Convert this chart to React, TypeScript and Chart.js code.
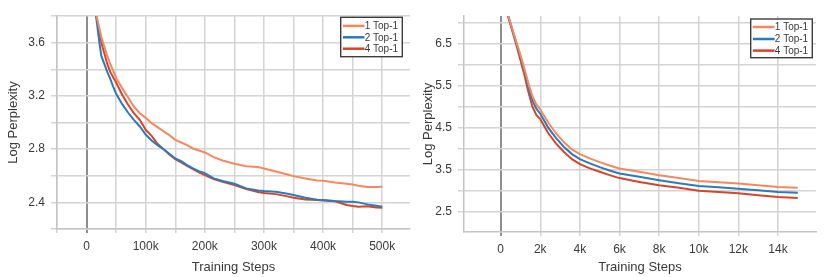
import React, { useEffect, useRef } from 'react';
import { Chart, registerables } from 'chart.js';

Chart.register(...registerables);

// ---------- data ----------
const SERIES_LABELS = ['1 Top-1', '2 Top-1', '4 Top-1'];
const SERIES_COLORS = ['#f4895f', '#2b7bba', '#d5452b'];

// Left panel: long training run (steps)
const leftSteps = [
  8000, 16000, 20000, 22000, 25000, 30000, 35000, 40000, 45000, 50000, 60000, 70000, 80000, 90000,
  100000, 110000, 120000, 130000, 140000, 150000, 160000, 170000, 180000, 190000, 200000, 215000,
  230000, 250000, 270000, 290000, 300000, 320000, 340000, 350000, 370000, 390000, 400000, 420000,
  440000, 450000, 460000, 475000, 490000, 500000,
];
const left1Top1 = [
  4.3, 3.82, 3.74, 3.7, 3.64, 3.57, 3.5, 3.44, 3.39, 3.335, 3.26, 3.19, 3.12, 3.07,
  3.035, 2.995, 2.965, 2.935, 2.905, 2.87, 2.85, 2.83, 2.805, 2.79, 2.775, 2.74,
  2.715, 2.69, 2.672, 2.665, 2.655, 2.632, 2.61, 2.597, 2.58, 2.565, 2.562, 2.55,
  2.54, 2.535, 2.525, 2.515, 2.515, 2.517,
];
const left2Top1 = [
  4.3, 3.8, 3.66, 3.59, 3.5, 3.44, 3.38, 3.33, 3.27, 3.215, 3.14, 3.075, 3.02, 2.97,
  2.91, 2.865, 2.83, 2.8, 2.765, 2.73, 2.71, 2.68, 2.655, 2.635, 2.62, 2.58,
  2.56, 2.54, 2.505, 2.49, 2.485, 2.48, 2.465, 2.455, 2.435, 2.42, 2.417, 2.41,
  2.405, 2.405, 2.4, 2.385, 2.375, 2.367,
];
const left4Top1 = [
  4.3, 3.81, 3.72, 3.67, 3.6, 3.52, 3.44, 3.38, 3.34, 3.3, 3.21, 3.135, 3.07, 3.02,
  2.945, 2.9, 2.84, 2.8, 2.76, 2.725, 2.7, 2.675, 2.65, 2.625, 2.605, 2.575,
  2.555, 2.53, 2.5, 2.478, 2.47, 2.462, 2.445, 2.435, 2.422, 2.417, 2.415, 2.408,
  2.38, 2.372, 2.367, 2.37, 2.362, 2.36,
];
const leftXTicks = [-50000, 0, 50000, 100000, 150000, 200000, 250000, 300000, 350000, 400000, 450000, 500000];
const leftYTicks = [2.2, 2.4, 2.6, 2.8, 3.0, 3.2, 3.4, 3.6, 3.8];

// Right panel: short training run (steps)
const rightSteps = [
  200, 400, 800, 1000, 1200, 1400, 1600, 1800, 2000, 2400, 2800, 3200, 3600, 4000, 4500, 5000,
  5500, 6000, 7000, 8000, 9000, 10000, 11000, 12000, 13000, 14000, 15000,
];
const right1Top1 = [
  7.5, 7.13, 6.52, 6.22, 5.9, 5.55, 5.25, 5.05, 4.93, 4.62, 4.36, 4.15, 3.98, 3.87, 3.77, 3.68,
  3.6, 3.53, 3.45, 3.37, 3.3, 3.23, 3.2, 3.17, 3.13, 3.09, 3.07,
];
const right2Top1 = [
  7.5, 7.12, 6.5, 6.18, 5.85, 5.48, 5.15, 4.95, 4.83, 4.5, 4.25, 4.04, 3.87, 3.75, 3.65, 3.56,
  3.48, 3.41, 3.33, 3.25, 3.18, 3.11, 3.08, 3.05, 3.01, 2.97, 2.95,
];
const right4Top1 = [
  7.5, 7.1, 6.45, 6.1, 5.75, 5.35, 5.0, 4.8, 4.7, 4.37, 4.12, 3.92, 3.75, 3.63, 3.53, 3.45,
  3.37, 3.3, 3.21, 3.13, 3.07, 3.0, 2.97, 2.94, 2.89, 2.85, 2.83,
];
const rightXTicks = [0, 2000, 4000, 6000, 8000, 10000, 12000, 14000];
const rightYTicks = [2.5, 3.0, 3.5, 4.0, 4.5, 5.0, 5.5, 6.0, 6.5, 7.0];

const X_TITLE = 'Training Steps';
const Y_TITLE = 'Log Perplexity';

// ---------- styling ----------
const FONT = '"Liberation Sans", Arial, Helvetica, sans-serif';
const GRID = '#d4d4d4';
const ZERO = '#8e8e8e';
const TEXT = '#3a3a3a';

const boxLegend = {
  id: 'boxLegend',
  afterDraw(chart: any, _args: any, opts: any) {
    const { ctx, chartArea } = chart;
    const x0 = chartArea.right - opts.right - opts.width;
    const y0 = chartArea.top + opts.top;
    ctx.save();
    ctx.fillStyle = '#ffffff';
    ctx.fillRect(x0, y0, opts.width, opts.height);
    ctx.strokeStyle = '#3c3c3c';
    ctx.lineWidth = 1.4;
    ctx.strokeRect(x0, y0, opts.width, opts.height);
    chart.data.datasets.forEach((ds: any, i: number) => {
      const y = y0 + opts.rows[i];
      ctx.strokeStyle = ds.borderColor;
      ctx.lineWidth = 2.5;
      ctx.beginPath();
      ctx.moveTo(x0 + 2.2, y);
      ctx.lineTo(x0 + 2.2 + opts.lineLen, y);
      ctx.stroke();
      ctx.fillStyle = TEXT;
      ctx.font = `10px ${FONT}`;
      ctx.textBaseline = 'middle';
      ctx.textAlign = 'left';
      ctx.fillText(ds.label, x0 + 2.4 + opts.lineLen, y + 0.5);
    });
    ctx.restore();
  },
};

type PanelCfg = {
  steps: number[];
  series: number[][];
  xTicks: number[];
  yTicks: number[];
  xMin: number;
  xMax: number;
  yMin: number;
  yMax: number;
  xLabel: (v: number) => string;
  yLabel: (v: number) => string;
  yAxisWidth: number;
  xAxisHeight: number;
  padTop: number;
  padRight: number;
  legend: any;
};

function Panel({ cfg, left }: { cfg: PanelCfg; left: number }) {
  const ref = useRef<HTMLCanvasElement | null>(null);
  useEffect(() => {
    if (!ref.current) return;
    const gridColor = (c: any) => (c.tick && c.tick.value === 0 ? ZERO : GRID);
    const gridWidth = (c: any) => (c.tick && c.tick.value === 0 ? 2 : 1.5);
    const chart = new Chart(ref.current, {
      type: 'line',
      data: {
        datasets: cfg.series.map((vals, i) => ({
          label: SERIES_LABELS[i],
          data: cfg.steps.map((x, j) => ({ x, y: vals[j] })),
          borderColor: SERIES_COLORS[i],
          backgroundColor: SERIES_COLORS[i],
          borderWidth: 2,
          pointRadius: 0,
          tension: 0,
          clip: 0,
        })),
      },
      options: {
        responsive: false,
        animation: false,
        devicePixelRatio: 1,
        layout: { padding: { left: 0, right: cfg.padRight, top: cfg.padTop, bottom: 0 } },
        plugins: {
          legend: { display: false },
          tooltip: { enabled: false },
          boxLegend: cfg.legend,
        } as any,
        scales: {
          x: {
            type: 'linear',
            min: cfg.xMin,
            max: cfg.xMax,
            afterBuildTicks: (s: any) => {
              s.ticks = cfg.xTicks.map((v) => ({ value: v }));
            },
            afterFit: (s: any) => {
              s.height = cfg.xAxisHeight;
            },
            ticks: {
              autoSkip: false,
              maxRotation: 0,
              minRotation: 0,
              padding: 6,
              color: TEXT,
              font: { family: FONT, size: 12 },
              callback: (v: any) => cfg.xLabel(Number(v)),
            },
            grid: { color: gridColor, lineWidth: gridWidth, tickLength: 4, tickColor: gridColor, tickWidth: gridWidth },
            border: { display: true, color: '#c4c4c4', width: 1.5 },
            title: {
              display: true,
              text: X_TITLE,
              color: TEXT,
              font: { family: FONT, size: 13 },
              padding: { top: 0, bottom: 2 },
            },
          },
          y: {
            type: 'linear',
            min: cfg.yMin,
            max: cfg.yMax,
            afterBuildTicks: (s: any) => {
              s.ticks = cfg.yTicks.map((v) => ({ value: v }));
            },
            afterFit: (s: any) => {
              s.width = cfg.yAxisWidth;
            },
            ticks: {
              autoSkip: false,
              padding: 6,
              color: TEXT,
              font: { family: FONT, size: 12 },
              callback: (v: any) => cfg.yLabel(Number(v)),
            },
            grid: { color: GRID, lineWidth: 1.5, tickLength: 6, tickColor: GRID },
            border: { display: true, color: '#c4c4c4', width: 1.5 },
            title: {
              display: true,
              text: Y_TITLE,
              color: TEXT,
              font: { family: FONT, size: 13 },
              padding: { top: 6, bottom: 0 },
            },
          },
        },
      },
      plugins: [boxLegend],
    });
    return () => chart.destroy();
  }, [cfg]);
  return (
    <canvas
      ref={ref}
      width={415}
      height={277}
      style={{ position: 'absolute', left, top: 0, width: 415, height: 277, display: 'block' }}
    />
  );
}

const kLabel = (v: number) => (v === 0 ? '0' : `${v / 1000}k`);

const leftCfg: PanelCfg = {
  steps: leftSteps,
  series: [left1Top1, left2Top1, left4Top1],
  xTicks: leftXTicks,
  yTicks: leftYTicks,
  xMin: -50000,
  xMax: 547000,
  yMin: 2.2,
  yMax: 3.8,
  xLabel: (v) => (v >= 0 && v % 100000 === 0 ? kLabel(v) : ''),
  yLabel: (v) => (Math.round(v * 10) % 4 === 0 ? v.toFixed(1) : ''),
  yAxisWidth: 57,
  xAxisHeight: 48,
  padTop: 16,
  padRight: 5,
  legend: { right: 7.7, top: 1.3, width: 61.6, height: 39.4, rows: [8.6, 20, 31.4], lineLen: 21.6 },
};

const rightCfg: PanelCfg = {
  steps: rightSteps,
  series: [right1Top1, right2Top1, right4Top1],
  xTicks: rightXTicks,
  yTicks: rightYTicks,
  xMin: -1850,
  xMax: 15920,
  yMin: 2.02,
  yMax: 7.15,
  xLabel: kLabel,
  yLabel: (v) => (Math.round(v * 2) % 2 === 1 ? v.toFixed(1) : ''),
  yAxisWidth: 49,
  xAxisHeight: 45,
  padTop: 16,
  padRight: 14,
  legend: { right: 3.7, top: 3, width: 61.6, height: 38.7, rows: [8, 20, 31.6], lineLen: 21.7 },
};

export default function App() {
  return (
    <div style={{ position: 'absolute', left: 0, top: 0, width: 830, height: 277, background: '#ffffff' }}>
      <Panel cfg={leftCfg} left={0} />
      <Panel cfg={rightCfg} left={415} />
    </div>
  );
}
